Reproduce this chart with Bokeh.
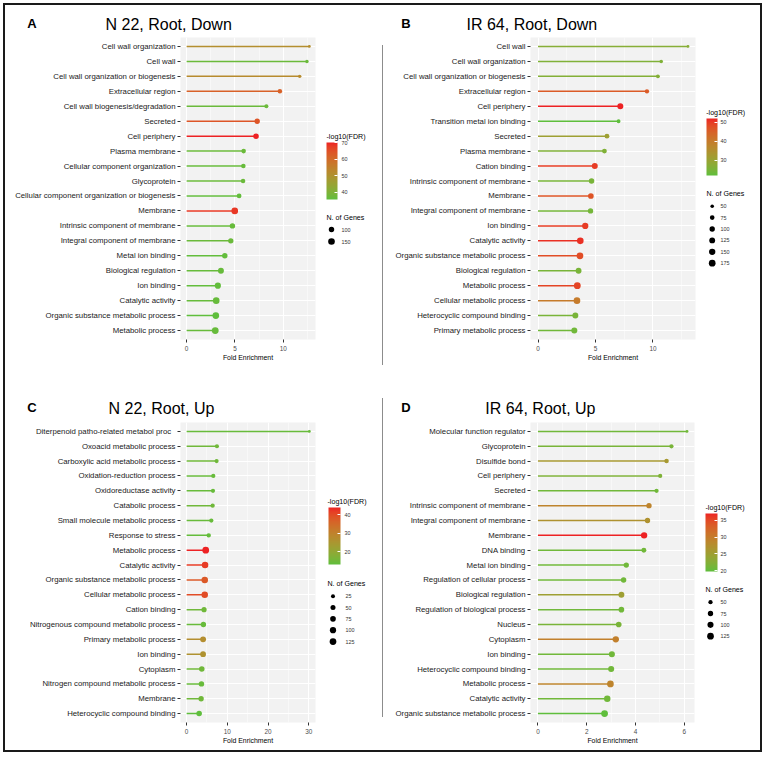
import numpy as np
from bokeh.plotting import figure
from bokeh.models import (FactorRange, Range1d, FixedTicker, LinearColorMapper,
                          ColorBar, ColumnDataSource, Spacer)
from bokeh.layouts import row, column
from bokeh.transform import transform
from bokeh.core.properties import value
from bokeh.embed import file_html
from bokeh.resources import INLINE

FONT = "Liberation Sans"

# ---------------- data ----------------
a_terms = ["Cell wall organization", "Cell wall", "Cell wall organization or biogenesis",
           "Extracellular region", "Cell wall biogenesis/degradation", "Secreted",
           "Cell periphery", "Plasma membrane", "Cellular component organization",
           "Glycoprotein", "Cellular component organization or biogenesis", "Membrane",
           "Intrinsic component of membrane", "Integral component of membrane",
           "Metal ion binding", "Biological regulation", "Ion binding", "Catalytic activity",
           "Organic substance metabolic process", "Metabolic process"]
a_fold = [12.7, 12.45, 11.7, 9.65, 8.25, 7.3, 7.18, 5.9, 5.87, 5.84, 5.43, 4.98, 4.74,
          4.57, 3.95, 3.55, 3.23, 3.06, 3.02, 2.96]
a_fdr = [51, 37, 52, 62, 37, 64, 70, 37, 36.5, 37, 36, 68, 36.5, 37, 36, 36.5, 36, 36.5,
         35.5, 36.5]
a_genes = [55, 58, 58, 75, 65, 100, 105, 75, 75, 75, 80, 150, 100, 98, 100, 120, 130,
           150, 155, 160]
a_xticks = [0, 5, 10]
a_cticks = [40, 50, 60, 70]
a_sizes = [100, 150]

b_terms = ["Cell wall", "Cell wall organization", "Cell wall organization or biogenesis",
           "Extracellular region", "Cell periphery", "Transition metal ion binding",
           "Secreted", "Plasma membrane", "Cation binding",
           "Intrinsic component of membrane", "Membrane", "Integral component of membrane",
           "Ion binding", "Catalytic activity", "Organic substance metabolic process",
           "Biological regulation", "Metabolic process", "Cellular metabolic process",
           "Heterocyclic compound binding", "Primary metabolic process"]
b_fold = [13.05, 10.72, 10.43, 9.48, 7.16, 7.01, 6.0, 5.78, 4.94, 4.66, 4.6, 4.57, 4.11,
          3.68, 3.65, 3.53, 3.42, 3.39, 3.25, 3.16]
b_fdr = [27, 26, 26.5, 46, 52, 22, 31, 26, 50, 25, 47, 24.5, 50, 51, 48, 25, 49, 40, 25,
         24]
b_genes = [45, 50, 55, 65, 130, 55, 80, 80, 130, 105, 115, 100, 145, 170, 175, 125, 180,
           170, 130, 135]
b_xticks = [0, 5, 10]
b_cticks = [30, 40, 50]
b_sizes = [50, 75, 100, 125, 150, 175]

c_terms = ["Diterpenoid  patho-related  metabol proc", "Oxoacid metabolic process",
           "Carboxylic acid metabolic process", "Oxidation-reduction process",
           "Oxidoreductase activity", "Catabolic process", "Small molecule metabolic process",
           "Response to stress", "Metabolic process", "Catalytic activity",
           "Organic substance metabolic process", "Cellular metabolic process",
           "Cation binding", "Nitrogenous compound metabolic process",
           "Primary metabolic process", "Ion binding", "Cytoplasm",
           "Nitrogen compound metabolic process", "Membrane", "Heterocyclic compound binding"]
c_fold = [30.15, 7.44, 7.36, 6.55, 6.47, 6.39, 6.06, 5.42, 4.69, 4.53, 4.45, 4.45, 4.28,
          4.12, 4.04, 4.04, 3.72, 3.64, 3.56, 3.07]
c_fdr = [14, 15, 15, 14, 14, 15, 14, 13.5, 44, 42, 38, 40, 15, 14, 27, 26, 15, 14, 15, 13]
c_genes = [15, 28, 28, 30, 30, 30, 30, 35, 130, 115, 115, 112, 55, 62, 85, 80, 70, 65,
           62, 70]
c_xticks = [0, 10, 20, 30]
c_cticks = [20, 30, 40]
c_sizes = [25, 50, 75, 100, 125]

d_terms = ["Molecular function regulator", "Glycoprotein", "Disulfide bond",
           "Cell periphery", "Secreted", "Intrinsic component of membrane",
           "Integral component of membrane", "Membrane", "DNA binding", "Metal ion binding",
           "Regulation of cellular process", "Biological regulation",
           "Regulation of biological process", "Nucleus", "Cytoplasm", "Ion binding",
           "Heterocyclic compound binding", "Metabolic process", "Catalytic activity",
           "Organic substance metabolic process"]
d_fold = [6.11, 5.47, 5.27, 5.01, 4.86, 4.55, 4.49, 4.35, 4.34, 3.62, 3.51, 3.42, 3.42,
          3.31, 3.19, 3.03, 3.0, 2.97, 2.84, 2.73]
d_fdr = [21, 21.5, 26, 22, 21, 29, 27, 37, 21, 21, 21, 25, 21, 21.5, 29.5, 21, 21, 29,
         21, 19.8]
d_genes = [38, 50, 55, 50, 50, 75, 75, 110, 65, 75, 78, 95, 85, 85, 110, 100, 100, 125,
           115, 130]
d_xticks = [0, 2, 4, 6]
d_cticks = [20, 25, 30, 35]
d_sizes = [50, 75, 100, 125]

# ---------------- styling helpers ----------------
_M = np.array([[0.4124564, 0.3575761, 0.1804375],
               [0.2126729, 0.7151522, 0.0721750],
               [0.0193339, 0.1191920, 0.9503041]])
_WP = np.array([0.95047, 1.0, 1.08883])


def _to_lab(h):
    rgb = np.array([int(h[i:i + 2], 16) for i in (1, 3, 5)]) / 255.0
    lin = np.where(rgb <= 0.04045, rgb / 12.92, ((rgb + 0.055) / 1.055) ** 2.4)
    t = (_M @ lin) / _WP
    f = np.where(t > (6 / 29) ** 3, np.cbrt(t), t / (3 * (6 / 29) ** 2) + 4 / 29)
    return np.array([116 * f[1] - 16, 500 * (f[0] - f[1]), 200 * (f[1] - f[2])])


def _from_lab(lab):
    L, a, b = lab
    fy = (L + 16) / 116
    f = np.array([fy + a / 500, fy, fy - b / 200])
    t = np.where(f > 6 / 29, f ** 3, 3 * (6 / 29) ** 2 * (f - 4 / 29))
    lin = np.clip(np.linalg.inv(_M) @ (t * _WP), 0, 1)
    rgb = np.where(lin <= 0.0031308, 12.92 * lin, 1.055 * lin ** (1 / 2.4) - 0.055)
    return "#%02x%02x%02x" % tuple(int(round(v * 255)) for v in np.clip(rgb, 0, 1))


def lab_palette(c0, c1, n=256):
    l0, l1 = _to_lab(c0), _to_lab(c1)
    return [_from_lab(l0 + (l1 - l0) * k / (n - 1)) for k in range(n)]


PAL = lab_palette("#5fbe3c", "#ed2224")
PANEL_BG = "#f2f2f2"
FRAME = "#1a1a1a"
DIVIDER = "#8c8c8c"
DMIN, DMAX = 2.8, 6.8


def size_map(vals, lo, hi):
    v = np.asarray(vals, dtype=float)
    return list(DMIN + (DMAX - DMIN) * np.sqrt(np.clip((v - lo) / (hi - lo), 0, 1)))


def build(letter, title, terms, fold, fdr, genes, xticks, cticks, sizes, g):
    W, H, ht = g["w"], g["h"], g["ht"]
    mh = H - ht
    ft, fb = g["ft"], g["fb"]
    has_div = "div" in g
    pw = W - 1 if has_div else W

    # header with panel letter and title
    hd = figure(width=pw, height=ht, x_range=Range1d(0, pw), y_range=Range1d(ht, 0),
                min_border=0, toolbar_location=None, output_backend="svg",
                outline_line_color=None, x_axis_type=None, y_axis_type=None, title=None)
    hd.grid.visible = False
    hd.text(x=[g["lx"]], y=[g["ly"]], text=[letter], text_font=value(FONT),
            text_font_size="13px", text_font_style="bold", text_color="#000000",
            text_baseline="middle")
    hd.text(x=[g["tx"]], y=[g["ty"]], text=[title], text_font=value(FONT),
            text_font_size="16px", text_color="#000000", text_baseline="middle")

    # main lollipop plot
    lo_x, hi_x = -0.05 * max(fold), 1.05 * max(fold)
    p = figure(width=g["mw"], height=mh, title=None,
               y_range=FactorRange(factors=list(reversed(terms)), range_padding=0.1,
                                   range_padding_units="absolute"),
               x_range=Range1d(lo_x, hi_x),
               min_border_left=g["fl"], min_border_right=g["mw"] - g["fr"],
               min_border_top=ft - ht, min_border_bottom=H - fb,
               toolbar_location=None, output_backend="svg",
               background_fill_color=PANEL_BG, border_fill_color="white",
               outline_line_color=None)
    mapper = LinearColorMapper(palette=PAL, low=min(fdr), high=max(fdr))
    gl, gh = min(genes), max(genes)
    src = ColumnDataSource(dict(term=terms, fold=fold, fdr=fdr,
                                size=size_map(genes, gl, gh)))
    p.segment(x0=0, y0="term", x1="fold", y1="term", source=src,
              line_color=transform("fdr", mapper), line_width=1.5)
    p.scatter(x="fold", y="term", size="size", source=src,
              fill_color=transform("fdr", mapper), line_color=None)

    step = xticks[1] - xticks[0]
    minor = [t + step / 2 for t in xticks]
    tk = FixedTicker(ticks=xticks, minor_ticks=minor)
    p.xaxis.ticker = tk
    p.xgrid.ticker = tk
    p.xgrid.grid_line_color = "white"
    p.xgrid.grid_line_width = 1
    p.xgrid.minor_grid_line_color = "white"
    p.xgrid.minor_grid_line_width = 0.5
    p.ygrid.grid_line_color = "white"
    p.ygrid.grid_line_width = 1
    p.axis.axis_line_color = None
    p.axis.major_tick_line_color = "#333333"
    p.axis.major_tick_out = 3
    p.axis.major_tick_in = 0
    p.axis.minor_tick_line_color = None
    p.yaxis.major_label_text_font = FONT
    p.yaxis.major_label_text_font_size = "7.8px"
    p.yaxis.major_label_text_color = "#1a1a1a"
    p.yaxis.major_label_standoff = 2
    p.xaxis.major_label_text_font = FONT
    p.xaxis.major_label_text_font_size = "6.4px"
    p.xaxis.major_label_text_color = "#4d4d4d"
    p.xaxis.major_label_standoff = 2
    p.xaxis.axis_label = "Fold Enrichment"
    p.xaxis.axis_label_text_font = FONT
    p.xaxis.axis_label_text_font_size = "6.9px"
    p.xaxis.axis_label_text_font_style = "normal"
    p.xaxis.axis_label_text_color = "#000000"
    p.xaxis.axis_label_standoff = 0

    # legend column: same top/bottom borders as the main plot, y in panel pixels
    lw = pw - g["mw"]
    lg = figure(width=lw, height=mh, x_range=Range1d(0, lw), y_range=Range1d(fb, ft),
                min_border_left=0, min_border_right=0, min_border_top=ft - ht,
                min_border_bottom=H - fb, toolbar_location=None, output_backend="svg",
                outline_line_color=None, x_axis_type=None, y_axis_type=None, title=None)
    lg.grid.visible = False
    cb = ColorBar(color_mapper=mapper, ticker=FixedTicker(ticks=cticks),
                  width=int(g["cbw"]), height=int(round(g["cbb"] - g["cbt"])),
                  location=(g["cbx"], fb - g["cbb"]), padding=0, margin=0, title=None,
                  major_label_text_font=FONT, major_label_text_font_size="5.4px",
                  major_label_text_color="#333333", label_standoff=int(g["cbs"]),
                  major_tick_line_color="white", major_tick_in=3, major_tick_out=0,
                  bar_line_color=None, border_line_color=None, background_fill_alpha=0)
    lg.add_layout(cb)
    lg.text(x=[g["ctx"], g["ngx"]], y=[g["cty"], g["ngy"]],
            text=["-log10(FDR)", "N. of Genes"], text_font=value(FONT),
            text_font_size="7.1px", text_baseline="middle", text_align="left",
            text_color="#000000")
    ys = [g["ry"] + i * g["rdy"] for i in range(len(sizes))]
    lg.scatter(x=[g["mkx"]] * len(sizes), y=ys, size=size_map(sizes, gl, gh),
               fill_color="black", line_color=None)
    lg.text(x=[g["lbx"]] * len(sizes), y=ys, text=[str(s) for s in sizes],
            text_font=value(FONT), text_font_size="5.4px", text_baseline="middle",
            text_align="left", text_color="#333333")

    body = column(hd, row(p, lg))
    if has_div:
        d0, d1 = g["div"]
        div = column(Spacer(width=1, height=d0),
                     Spacer(width=1, height=d1 - d0, styles={"background-color": DIVIDER}),
                     Spacer(width=1, height=H - d1))
        return row(body, div)
    return body


# panel-local geometry (pixels from each panel's top-left corner)
geoA = dict(w=378, h=373, ht=30, mw=318, fl=175, fr=310, ft=32, fb=334,
            lx=21.7, ly=17.5, tx=100, ty=18.5,
            ctx=3, cty=131, cbx=3, cbt=137, cbb=194, cbw=11, cbs=4,
            ngx=3, ngy=212, ry=224, rdy=12, mkx=8, lbx=18, div=(40, 360))
geoB = dict(w=377, h=373, ht=30, mw=320, fl=147, fr=312, ft=32, fb=334,
            lx=17.7, ly=17.5, tx=83, ty=18.5,
            ctx=2.7, cty=107, cbx=3, cbt=113, cbb=170, cbw=11, cbs=3,
            ngx=3, ngy=188.3, ry=200.7, rdy=11.4, mkx=8.7, lbx=17)
geoC = dict(w=378, h=372, ht=40, mw=318, fl=175, fr=310, ft=44, fb=344,
            lx=21.7, ly=29.2, tx=103, ty=30.3,
            ctx=4, cty=123.7, cbx=5, cbt=129, cbb=186, cbw=12, cbs=4,
            ngx=4, ngy=205.3, ry=217.7, rdy=11.33, mkx=9.5, lbx=22, div=(20, 339))
geoD = dict(w=377, h=372, ht=40, mw=320, fl=147, fr=311, ft=44, fb=344,
            lx=17.7, ly=29.2, tx=101.7, ty=30.3,
            ctx=2, cty=129, cbx=2, cbt=135, cbb=193, cbw=12, cbs=3,
            ngx=2, ngy=211, ry=223.7, rdy=11.33, mkx=7, lbx=17)

panA = build("A", "N 22, Root, Down", a_terms, a_fold, a_fdr, a_genes, a_xticks,
             a_cticks, a_sizes, geoA)
panB = build("B", "IR 64, Root, Down", b_terms, b_fold, b_fdr, b_genes, b_xticks,
             b_cticks, b_sizes, geoB)
panC = build("C", "N 22, Root, Up", c_terms, c_fold, c_fdr, c_genes, c_xticks,
             c_cticks, c_sizes, geoC)
panD = build("D", "IR 64, Root, Up", d_terms, d_fold, d_fdr, d_genes, d_xticks,
             d_cticks, d_sizes, geoD)

content = column(row(panA, panB), row(panC, panD))
CW, CH = 755, 745


def bar(w, h):
    return Spacer(width=w, height=h, styles={"background-color": FRAME})


framed = column(bar(CW + 4, 2), row(bar(2, CH), content, bar(2, CH)), bar(CW + 4, 2))
root = column(Spacer(width=3, height=3), row(Spacer(width=3, height=3), framed))

open("out.html", "w").write(file_html(root, INLINE))
